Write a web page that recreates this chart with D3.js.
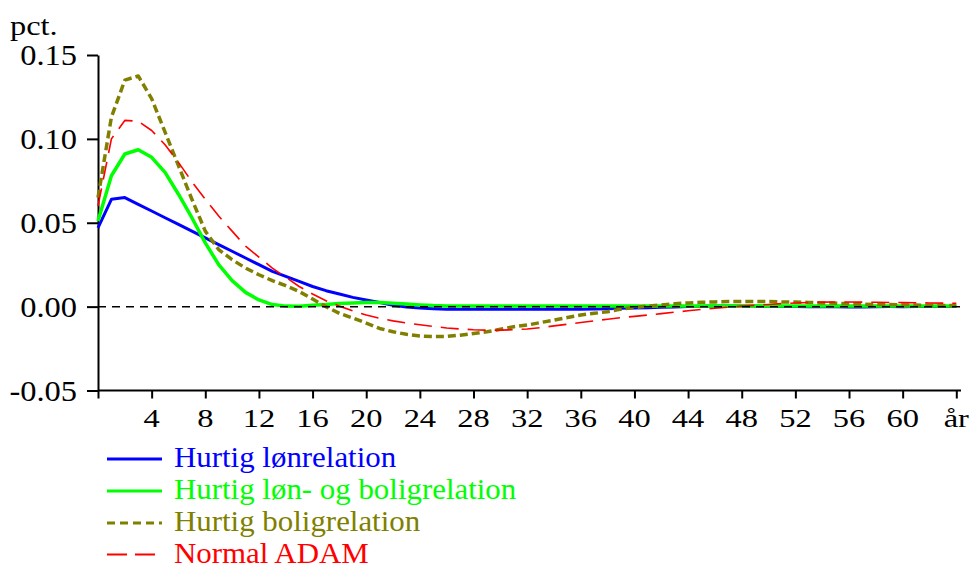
<!DOCTYPE html>
<html>
<head>
<meta charset="utf-8">
<script src="https://cdn.jsdelivr.net/npm/d3@7/dist/d3.min.js"></script>
<style>
  body { margin: 0; background: #fff; }
  svg { display: block; }
</style>
</head>
<body>
<svg id="chart" width="972" height="570" font-family="'Liberation Serif', 'DejaVu Serif', serif"></svg>
<script>
// Quarters after the shock (0 .. 64)
const quarters = d3.range(0, 65);

// Response in pct., one value per quarter
const hurtigLoen = [
  0.047, 0.064, 0.065, 0.061, 0.057, 0.053, 0.049, 0.045, 0.041, 0.037,
  0.033, 0.029, 0.025, 0.021, 0.018, 0.015, 0.012, 0.0095, 0.0075, 0.0055,
  0.004, 0.0025, 0.0008, -0.0002, -0.0008, -0.0012, -0.0015, -0.0015, -0.0015, -0.0015,
  -0.0015, -0.0015, -0.0015, -0.0015, -0.0015, -0.0015, -0.0015, -0.0014, -0.0012, -0.001,
  -0.0008, -0.0006, -0.0004, -0.0002, 0.0, 0.0002, 0.0003, 0.0003, 0.0003, 0.0003,
  0.0002, 0.0001, 0.0, 0.0, -0.0001, -0.0001, -0.0002, -0.0002, -0.0001, 0.0,
  0.0, 0.0001, 0.0001, 0.0001, 0.0001
];
const hurtigLoenBolig = [
  0.051, 0.078, 0.091, 0.0935, 0.089, 0.080, 0.067, 0.053, 0.038, 0.025,
  0.0155, 0.0085, 0.004, 0.0012, 0.0003, 0.0002, 0.0008, 0.0013, 0.0018, 0.0022,
  0.0025, 0.0025, 0.002, 0.0015, 0.001, 0.0006, 0.0004, 0.0004, 0.0004, 0.0004,
  0.0004, 0.0004, 0.0004, 0.0004, 0.0004, 0.0004, 0.0004, 0.0004, 0.0004, 0.0004,
  0.0004, 0.0004, 0.0004, 0.0004, 0.0004, 0.0004, 0.0004, 0.0004, 0.0004, 0.0004,
  0.0004, 0.0004, 0.0004, 0.0004, 0.0004, 0.0004, 0.0004, 0.0004, 0.0004, 0.0004,
  0.0004, 0.0004, 0.0004, 0.0004, 0.0004
];
const hurtigBolig = [
  0.065, 0.113, 0.135, 0.1375, 0.124, 0.104, 0.084, 0.064, 0.045, 0.034,
  0.028, 0.023, 0.019, 0.0155, 0.0125, 0.009, 0.0045, 0.0, -0.004, -0.0068,
  -0.0098, -0.013, -0.015, -0.0165, -0.0175, -0.0178, -0.0178, -0.017, -0.016, -0.015,
  -0.0135, -0.012, -0.011, -0.0095, -0.008, -0.0065, -0.005, -0.004, -0.003, -0.0015,
  -0.0005, 0.0003, 0.001, 0.0017, 0.0022, 0.0026, 0.0028, 0.003, 0.003, 0.003,
  0.003, 0.0028, 0.0027, 0.0025, 0.0022, 0.002, 0.0017, 0.0015, 0.0013, 0.0012,
  0.001, 0.0009, 0.0008, 0.0007, 0.0006
];
const normalAdam = [
  0.060, 0.100, 0.111, 0.1105, 0.105, 0.0965, 0.086, 0.0745, 0.064, 0.054,
  0.045, 0.036, 0.0295, 0.023, 0.0175, 0.012, 0.0075, 0.0035, 0.0003, -0.0025,
  -0.005, -0.007, -0.0085, -0.0097, -0.0108, -0.0118, -0.0127, -0.0133, -0.0138, -0.014,
  -0.014, -0.0138, -0.0133, -0.0125, -0.0115, -0.0105, -0.0095, -0.0085, -0.0075, -0.0066,
  -0.0058, -0.005, -0.0042, -0.0033, -0.0025, -0.0017, -0.001, -0.0003, 0.0003, 0.0008,
  0.0013, 0.0018, 0.0022, 0.0025, 0.0027, 0.0028, 0.0028, 0.0027, 0.0026, 0.0025,
  0.0024, 0.0023, 0.0022, 0.0021, 0.002
];

const seriesNames = ["Hurtig lønrelation", "Hurtig løn- og boligrelation", "Hurtig boligrelation", "Normal ADAM"];
const seriesValues = [hurtigLoen, hurtigLoenBolig, hurtigBolig, normalAdam];
const seriesColors = ["#0000ff", "#00ff00", "#808000", "#ff0000"];
const seriesWidths = [3, 3.5, 3.5, 1.6];
const seriesDashes = [null, null, "8,4", "18,9"];
const legendDashes = [null, null, "8,5", "20,8"];

const yTicks = [-0.05, 0.00, 0.05, 0.10, 0.15];
const xTicks = [0, 4, 8, 12, 16, 20, 24, 28, 32, 36, 40, 44, 48, 52, 56, 60, 64];
const xTickLabels = ["", "4", "8", "12", "16", "20", "24", "28", "32", "36", "40", "44", "48", "52", "56", "60", "år"];
const yUnit = "pct.";

const svg = d3.select("#chart");

const x = d3.scaleLinear().domain([0, 64]).range([98, 956.3]);
const y = d3.scaleLinear().domain([-0.05, 0.15]).range([390.5, 55]);

// Text that is stretched horizontally around its anchor point
function label(px, py, str, size, sx, anchor, color) {
  svg.append("g")
    .attr("transform", `translate(${px},${py})`)
    .append("text")
    .attr("transform", `scale(${sx},1)`)
    .attr("text-anchor", anchor)
    .attr("font-family", "'Liberation Serif', 'DejaVu Serif', serif")
    .attr("font-size", size)
    .attr("fill", color || "#000")
    .text(str);
}

// Axes
const xAxis = d3.axisBottom(x).tickValues(xTicks).tickSize(8).tickFormat("").tickSizeOuter(0);
const gx = svg.append("g").attr("transform", `translate(0,${y(-0.05)})`).call(xAxis);
gx.select(".domain").attr("d", `M${x(0)},0H961`);
gx.selectAll("line, path").attr("stroke", "#000").attr("stroke-width", 2);

const yAxis = d3.axisLeft(y).tickValues(yTicks).tickSize(11).tickFormat("").tickSizeOuter(0);
const gy = svg.append("g").attr("transform", `translate(${x(0)},0)`).call(yAxis);
gy.selectAll("line, path").attr("stroke", "#000").attr("stroke-width", 2);

// Tick labels
yTicks.forEach(v => label(77, y(v) + 10, v.toFixed(2), 29.5, 1.1, "end"));
xTicks.forEach((v, i) => {
  if (xTickLabels[i]) label(x(v), 427, xTickLabels[i], 25, 1.3, "middle");
});
label(10, 35, yUnit, 27, 1.2, "start");

// Series
const line = d3.line().x((d, i) => x(quarters[i])).y(d => y(d));
seriesValues.forEach((vals, k) => {
  svg.append("path")
    .datum(vals)
    .attr("d", line)
    .attr("fill", "none")
    .attr("stroke", seriesColors[k])
    .attr("stroke-width", seriesWidths[k])
    .attr("stroke-dasharray", seriesDashes[k])
    .attr("stroke-linejoin", "round");
});

// Zero line
svg.append("line")
  .attr("x1", x(0)).attr("x2", 962)
  .attr("y1", y(0)).attr("y2", y(0))
  .attr("stroke", "#000").attr("stroke-width", 1.5)
  .attr("stroke-dasharray", "8,6");

// Legend
const legendRows = [459, 491, 523, 554.5];
seriesNames.forEach((name, k) => {
  svg.append("line")
    .attr("x1", 107).attr("x2", 162)
    .attr("y1", legendRows[k]).attr("y2", legendRows[k])
    .attr("stroke", seriesColors[k])
    .attr("stroke-width", seriesWidths[k] === 1.6 ? 1.8 : 3)
    .attr("stroke-dasharray", legendDashes[k]);
  label(174, legendRows[k] + 8, name, 30, 1.03, "start", seriesColors[k]);
});
</script>
</body>
</html>
